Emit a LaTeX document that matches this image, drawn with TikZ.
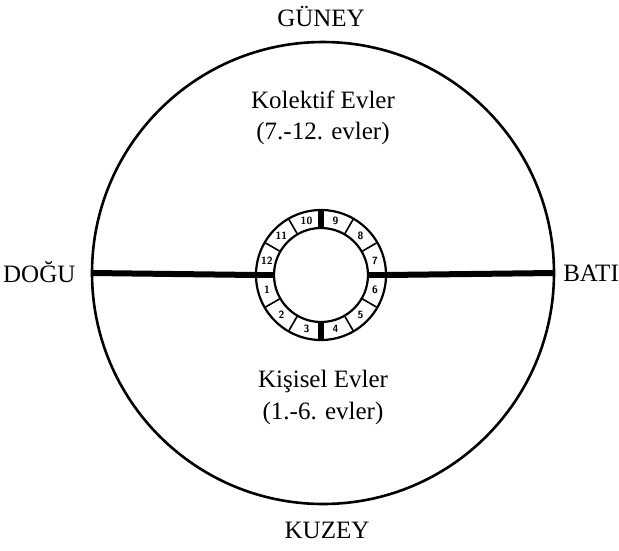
\documentclass[tikz,border=0pt]{standalone}
\usepackage{fontspec}
\setmainfont{Liberation Serif}
\usetikzlibrary{calc}
\begin{document}
\begin{tikzpicture}[x=1pt,y=-1pt,
  lbl/.style={font=\fontsize{25}{29}\selectfont, inner sep=0pt},
  num/.style={font=\fontsize{10.5}{10.5}\selectfont\bfseries\sffamily, inner sep=0pt},
  ring/.style={circle, draw, inner sep=0pt, outer sep=0pt},
  thin/.style={line width=1.6pt},
  thick/.style={line width=6pt}]
\useasboundingbox (0,0) rectangle (619,550);
\node[ring, line width=2.6pt, minimum size=462pt] (big) at (323,273) {};
\node[ring, line width=2.2pt, minimum size=130pt] (outer) at (321,275) {};
\node[ring, line width=2.2pt, minimum size=94pt] (inner) at (321,275) {};
\foreach \a in {30,60,120,150,210,240,300,330}
  \draw[thin] (inner.\a) -- (outer.\a);
\foreach \a in {0,90,180,270}
  \draw[thick] (inner.\a) -- (outer.\a);
\foreach \k in {1,...,12}{
  \pgfmathtruncatemacro{\ang}{mod(195+30*(\k-1),360)}
  \node[num] (h\k) at ($(inner.\ang)!0.5!(outer.\ang)$) {\k};
}
\draw[thick] (big.west) -- (outer.west);
\draw[thick] (outer.east) -- (big.east);
\node[lbl] (guney) at (321,16) {GÜNEY};
\node[lbl] (kuzey) at (327,530) {KUZEY};
\node[lbl, anchor=west] (dogu) at (3,272) {DOĞU};
\node[lbl, anchor=east] (bati) at (619,273) {BATI};
\node[lbl] (kol) at (323,100) {Kolektif Evler};
\node[lbl] (kol2) at (323,133) {(7.-12. evler)};
\node[lbl] (kis) at (323,381) {Kişisel Evler};
\node[lbl] (kis2) at (323,413) {(1.-6. evler)};
\end{tikzpicture}
\end{document}
